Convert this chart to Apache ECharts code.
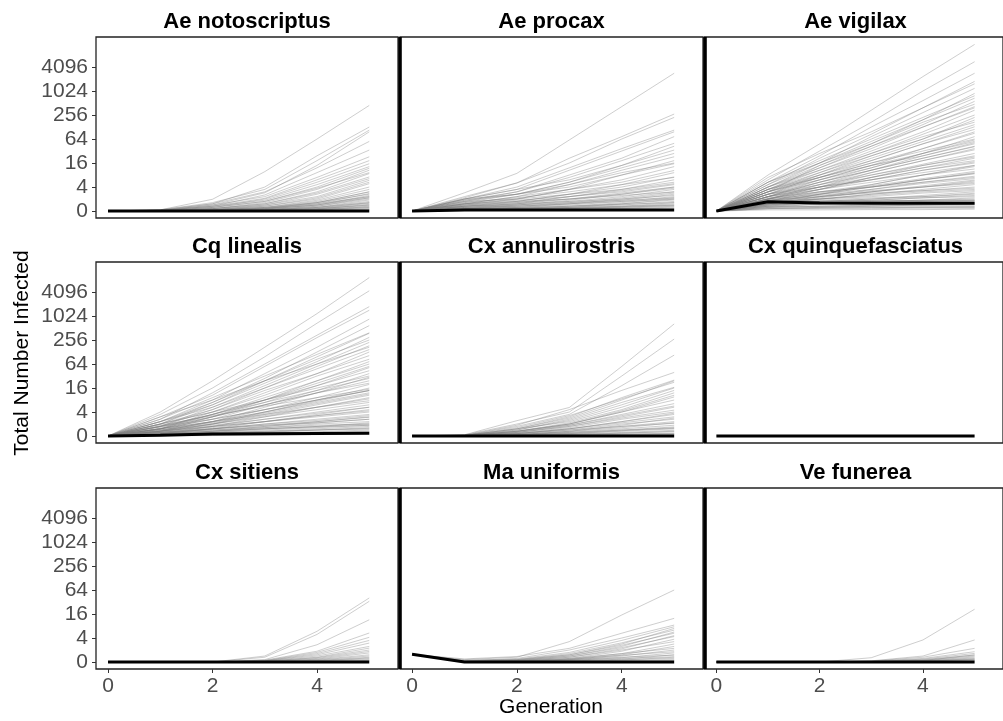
<!DOCTYPE html>
<html><head><meta charset="utf-8">
<script src="https://cdn.jsdelivr.net/npm/echarts@6/dist/echarts.min.js"></script>
<style>html,body{margin:0;padding:0;background:#fff}#c{width:1003px;height:721px}</style>
</head><body><div id="c"></div>
<script>
// ---- data (y values are in log4 axis units; tick labels give the counts) ----
const generations = [0, 1, 2, 3, 4, 5];
const xTickValues = [0, 2, 4];
const yTickValues = [0, 1, 2, 3, 4, 5, 6];
const yTickLabels = ['0', '4', '16', '64', '256', '1024', '4096'];
const species = ['Ae notoscriptus', 'Ae procax', 'Ae vigilax', 'Cq linealis', 'Cx annulirostris',
  'Cx quinquefasciatus', 'Cx sitiens', 'Ma uniformis', 'Ve funerea'];

const simAeNotoscriptus = [
  [0,0.05,0.49,1.64,3.0,4.4],[0,0.05,0.3,1.0,2.3,3.5],[0,0.05,0.35,0.9,2.1,3.37],[0,0.03,0.25,0.76,1.9,3.3],
  [0,0.03,0.3,0.8,1.8,2.9],[0,0.03,0.2,0.67,1.6,2.54],[0,0.02,0.25,0.6,1.4,2.26],[0,0.02,0.2,0.53,1.3,2.1],
  [0,0.02,0.15,0.5,1.2,1.97],[0,0.02,0.2,0.45,1.1,1.85],[0,0.02,0.15,0.4,1.0,1.78],[0,0.01,0.1,0.35,0.9,1.7],
  [0,0.01,0.15,0.4,0.95,1.6],[0,0.01,0.1,0.3,0.8,1.56],[0,0.01,0.1,0.3,0.75,1.42],[0,0.01,0.1,0.25,0.7,1.35],
  [0,0.01,0.05,0.25,0.6,1.28],[0,0.01,0.08,0.2,0.55,1.2],[0,0,0.05,0.2,0.5,1.14],[0,0,0.05,0.15,0.45,1.0],
  [0,0,0.05,0.15,0.4,0.9],[0,0,0.05,0.12,0.35,0.8],[0,0,0.03,0.1,0.35,0.8],[0,0,0.03,0.1,0.3,0.73],
  [0,0,0.03,0.08,0.25,0.65],[0,0,0.02,0.08,0.25,0.6],[0,0,0.02,0.06,0.2,0.55],[0,0,0.02,0.05,0.2,0.5],
  [0,0,0.02,0.05,0.15,0.46],[0,0,0.01,0.04,0.15,0.4],[0,0,0.01,0.04,0.12,0.35],[0,0,0.01,0.03,0.1,0.32],
  [0,0,0.01,0.03,0.08,0.28],[0,0,0,0.02,0.08,0.24],[0,0,0,0.02,0.06,0.2],[0,0,0,0.01,0.05,0.18],
  [0,0,0,0.01,0.04,0.14],[0,0,0,0.01,0.03,0.1],[0,0,0,0,0.02,0.08],[0,0,0,0,0.01,0.05],
  [0,0,0.02,0.06,0.15,0.35],[0,0,0.01,0.04,0.1,0.25],[0,0.01,0.05,0.15,0.35,0.7],[0,0,0.03,0.1,0.25,0.55],
  [0,0,0.01,0.02,0.06,0.15],[0,0.01,0.04,0.12,0.3,0.6]
];
const simAeProcax = [
  [0,0.76,1.57,2.96,4.35,5.74],[0,0.6,1.17,2.2,3.1,4.04],[0,0.55,1.17,2.0,3.0,3.9],[0,0.5,1.0,1.8,2.6,3.37],
  [0,0.5,0.9,1.7,2.5,3.3],[0,0.45,0.8,1.5,2.2,3.1],[0,0.4,0.8,1.4,2.1,2.82],[0,0.5,0.9,1.3,1.9,2.7],
  [0,0.4,0.7,1.2,1.9,2.54],[0,0.35,0.7,1.2,1.8,2.4],[0,0.3,0.6,1.1,1.7,2.26],[0,0.45,0.7,1.0,1.5,2.1],
  [0,0.3,0.5,0.9,1.5,1.97],[0,0.25,0.5,0.9,1.3,1.85],[0,0.3,0.6,0.9,1.2,1.69],[0,0.2,0.4,0.7,1.1,1.6],
  [0,0.25,0.4,0.7,1.0,1.42],[0,0.2,0.35,0.6,0.9,1.3],[0,0.15,0.3,0.6,0.85,1.14],[0,0.2,0.3,0.5,0.75,1.0],
  [0,0.15,0.25,0.45,0.7,1.0],[0,0.1,0.25,0.4,0.6,0.9],[0,0.15,0.2,0.35,0.55,0.8],[0,0.1,0.2,0.3,0.5,0.75],
  [0,0.1,0.15,0.3,0.45,0.7],[0,0.1,0.15,0.25,0.4,0.6],[0,0.08,0.12,0.2,0.35,0.55],[0,0.08,0.1,0.2,0.3,0.5],
  [0,0.05,0.1,0.15,0.3,0.46],[0,0.05,0.1,0.15,0.25,0.4],[0,0.05,0.08,0.12,0.2,0.35],[0,0.05,0.06,0.1,0.18,0.3],
  [0,0.03,0.05,0.1,0.15,0.25],[0,0.03,0.05,0.08,0.12,0.2],[0,0.02,0.04,0.06,0.1,0.16],[0,0.02,0.03,0.05,0.08,0.12],
  [0,0.3,0.45,0.6,0.8,1.1],[0,0.4,0.5,0.7,0.9,1.2],[0,0.2,0.3,0.4,0.5,0.65],[0,0.5,0.7,1.1,1.6,2.0],
  [0,0.3,0.4,0.5,0.65,0.8],[0,0.2,0.25,0.35,0.45,0.55],[0,0.1,0.15,0.2,0.28,0.35],[0,0.25,0.35,0.5,0.7,0.95],
  [0,0.15,0.2,0.3,0.4,0.5],[0,0.05,0.08,0.12,0.16,0.22],[0,0.35,0.55,0.8,1.1,1.4],[0,0.1,0.12,0.15,0.2,0.25]
];
const simAeVigilax = [
  [0,1.5,2.8,4.2,5.6,6.94],[0,1.3,2.5,3.7,5.0,6.22],[0,1.2,2.3,3.5,4.6,5.74],[0,1.0,2.0,3.1,4.1,5.11],
  [0,1.1,2.0,2.9,3.8,4.7],[0,0.9,1.8,2.7,3.6,4.57],[0,1.0,1.8,2.6,3.5,4.35],[0,0.8,1.6,2.4,3.2,4.0],
  [0,0.9,1.6,2.3,3.0,3.79],[0,0.7,1.4,2.1,2.8,3.51],[0,0.8,1.4,2.0,2.6,3.24],[0,0.6,1.2,1.8,2.4,2.96],
  [0,0.7,1.2,1.7,2.2,2.68],[0,0.5,1.0,1.5,1.95,2.4],[0,0.6,1.0,1.4,1.8,2.1],[0,0.4,0.8,1.1,1.5,1.85],
  [0,0.5,0.8,1.0,1.3,1.57],[0,0.3,0.6,0.8,1.05,1.29],[0,0.4,0.5,0.7,0.85,1.0],[0,0.25,0.4,0.5,0.6,0.74],
  [0,0.3,0.35,0.4,0.45,0.46],[0,0.2,0.2,0.22,0.24,0.25],[0,1.2,2.1,3.0,3.9,4.8],[0,0.9,1.7,2.5,3.3,4.2],
  [0,0.7,1.5,2.3,3.0,3.9],[0,1.0,1.7,2.4,3.1,3.7],[0,0.8,1.5,2.1,2.8,3.4],[0,0.6,1.3,1.9,2.6,3.3],
  [0,0.7,1.3,1.8,2.4,3.1],[0,0.5,1.1,1.7,2.3,2.85],[0,0.9,1.4,1.9,2.3,2.8],[0,0.6,1.1,1.6,2.1,2.55],
  [0,0.4,0.9,1.4,1.9,2.3],[0,0.7,1.1,1.5,1.9,2.25],[0,0.5,0.9,1.3,1.7,2.0],[0,0.35,0.7,1.1,1.5,1.9],
  [0,0.6,0.9,1.2,1.5,1.75],[0,0.45,0.75,1.05,1.35,1.65],[0,0.3,0.6,0.9,1.2,1.45],[0,0.5,0.7,0.9,1.15,1.35],
  [0,0.4,0.6,0.8,1.0,1.2],[0,0.25,0.5,0.7,0.9,1.1],[0,0.45,0.6,0.75,0.85,0.95],[0,0.35,0.5,0.6,0.75,0.85],
  [0,0.2,0.4,0.5,0.65,0.8],[0,0.4,0.45,0.55,0.6,0.7],[0,0.3,0.4,0.45,0.55,0.6],[0,0.15,0.3,0.4,0.45,0.55],
  [0,0.35,0.4,0.42,0.45,0.5],[0,0.25,0.3,0.35,0.38,0.4],[0,0.3,0.3,0.32,0.33,0.35],[0,0.1,0.15,0.2,0.25,0.3],
  [0,0.2,0.2,0.2,0.2,0.2],[0,0.15,0.15,0.15,0.15,0.15],[0,0.1,0.1,0.1,0.12,0.12],[0,0.05,0.05,0.06,0.06,0.08],
  [0,1.4,2.4,3.3,4.3,5.3],[0,1.1,2.2,3.2,4.3,5.4],[0,0.8,1.9,2.8,3.8,4.9],[0,1.2,2.0,2.8,3.7,4.45],
  [0,0.5,0.9,1.4,1.8,2.2],[0,0.6,1.0,1.3,1.6,1.9],[0,0.4,0.7,1.0,1.3,1.6],[0,0.3,0.55,0.8,1.0,1.25],
  [0,0.35,0.5,0.65,0.8,0.9],[0,0.25,0.35,0.45,0.55,0.65],[0,0.2,0.3,0.35,0.4,0.45],[0,0.4,0.42,0.42,0.43,0.44],
  [0,0.15,0.2,0.25,0.28,0.3],[0,0.1,0.12,0.14,0.16,0.18],[0,0.8,1.3,1.9,2.4,2.9],[0,0.6,1.2,1.7,2.2,2.7],
  [0,0.9,1.5,2.2,2.9,3.6],[0,0.5,1.0,1.6,2.1,2.6],[0,0.7,1.0,1.3,1.7,2.05],[0,0.3,0.7,1.0,1.3,1.55],
  [0,0.45,0.65,0.85,1.0,1.15],[0,0.55,0.8,1.0,1.2,1.4],[0,1.0,1.9,2.7,3.5,4.3],[0,0.8,1.4,2.0,2.5,3.0]
];
const simCqLinealis = [
  [0,1.0,2.3,3.7,5.1,6.6],[0,0.9,2.0,3.3,4.7,6.05],[0,0.7,1.8,3.0,4.2,5.39],[0,0.8,1.7,2.9,4.1,5.24],
  [0,0.6,1.5,2.6,3.7,4.87],[0,0.5,1.3,2.3,3.3,4.28],[0,0.6,1.3,2.2,3.1,4.11],[0,0.4,1.1,2.0,2.9,3.76],
  [0,0.5,1.1,1.9,2.6,3.35],[0,0.3,0.9,1.6,2.3,3.0],[0,0.4,0.9,1.5,2.1,2.72],[0,0.3,0.8,1.3,1.8,2.3],
  [0,0.2,0.6,1.1,1.5,1.89],[0,0.3,0.6,0.9,1.2,1.47],[0,0.2,0.4,0.6,0.85,1.05],[0,0.1,0.3,0.45,0.6,0.78],
  [0,0.15,0.25,0.35,0.45,0.5],[0,0.1,0.15,0.2,0.25,0.29],[0,0.7,1.6,2.5,3.4,4.3],[0,0.5,1.4,2.3,3.2,4.0],
  [0,0.4,1.2,2.1,3.0,3.9],[0,0.6,1.2,2.0,2.8,3.6],[0,0.3,1.0,1.8,2.6,3.5],[0,0.5,1.0,1.7,2.5,3.2],
  [0,0.2,0.8,1.5,2.3,3.1],[0,0.4,0.8,1.4,2.1,2.85],[0,0.3,0.7,1.3,1.9,2.6],[0,0.2,0.6,1.2,1.8,2.45],
  [0,0.4,0.7,1.1,1.6,2.15],[0,0.15,0.5,1.0,1.5,2.0],[0,0.3,0.6,1.0,1.4,1.8],[0,0.2,0.5,0.9,1.3,1.7],
  [0,0.1,0.4,0.8,1.2,1.6],[0,0.25,0.5,0.8,1.1,1.4],[0,0.15,0.4,0.7,1.0,1.3],[0,0.1,0.3,0.6,0.9,1.2],
  [0,0.2,0.4,0.6,0.8,1.0],[0,0.1,0.3,0.5,0.7,0.9],[0,0.05,0.2,0.4,0.6,0.8],[0,0.15,0.3,0.45,0.55,0.7],
  [0,0.1,0.2,0.35,0.5,0.6],[0,0.05,0.15,0.3,0.4,0.55],[0,0.1,0.2,0.3,0.38,0.45],[0,0.05,0.1,0.2,0.3,0.4],
  [0,0.05,0.1,0.15,0.25,0.35],[0,0.03,0.08,0.12,0.18,0.25],[0,0.02,0.05,0.1,0.15,0.2],[0,0.02,0.04,0.06,0.1,0.15],
  [0,0.01,0.02,0.04,0.06,0.1],[0,0.6,1.4,2.4,3.5,4.6],[0,0.8,1.5,2.3,3.0,3.7],[0,0.5,1.0,1.5,2.0,2.5],
  [0,0.35,0.9,1.5,2.2,2.9],[0,0.25,0.55,0.95,1.35,1.75],[0,0.45,0.85,1.25,1.6,1.95],
  [0,0.3,0.7,1.1,1.5,1.9],[0,0.2,0.45,0.7,0.95,1.2],[0,0.1,0.25,0.4,0.55,0.7],[0,0.05,0.15,0.25,0.35,0.45],
  [0,0.15,0.35,0.6,0.85,1.1],[0,0.25,0.6,1.0,1.45,1.9],[0,0.1,0.2,0.3,0.4,0.5],[0,0.2,0.5,0.85,1.2,1.55],
  [0,0.05,0.1,0.18,0.25,0.32],[0,0.4,0.9,1.4,1.9,2.4],[0,0.3,0.8,1.3,1.8,2.2],[0,0.15,0.3,0.5,0.65,0.85]
];
const simCxAnnulirostris = [
  [0,0.05,0.64,1.19,2.9,4.67],[0,0.05,0.5,1.0,2.5,4.04],[0,0.03,0.4,0.9,2.1,3.37],[0,0.03,0.45,1.1,1.9,2.65],
  [0,0.03,0.3,0.8,1.6,2.33],[0,0.02,0.35,0.85,1.55,2.24],[0,0.02,0.25,0.7,1.4,2.03],[0,0.02,0.3,0.6,1.2,1.9],
  [0,0.02,0.2,0.5,1.0,1.63],[0,0.01,0.2,0.45,0.9,1.35],[0,0.01,0.15,0.4,0.75,1.08],[0,0.01,0.1,0.3,0.55,0.8],
  [0,0.01,0.1,0.25,0.4,0.53],[0,0,0.05,0.15,0.25,0.32],[0,0.02,0.25,0.65,1.3,2.0],[0,0.02,0.2,0.55,1.1,1.8],
  [0,0.01,0.2,0.5,1.0,1.5],[0,0.01,0.15,0.45,0.85,1.25],[0,0.01,0.12,0.35,0.7,1.0],[0,0.01,0.1,0.3,0.6,0.9],
  [0,0,0.08,0.25,0.5,0.7],[0,0,0.06,0.2,0.4,0.6],[0,0,0.05,0.15,0.3,0.45],[0,0,0.04,0.12,0.25,0.38],
  [0,0,0.03,0.1,0.2,0.3],[0,0,0.02,0.08,0.15,0.24],[0,0,0.02,0.06,0.12,0.18],[0,0,0.01,0.04,0.08,0.12],
  [0,0,0.01,0.03,0.05,0.08],[0,0,0,0.02,0.03,0.05],[0,0.02,0.3,0.75,1.5,2.3],[0,0.01,0.18,0.5,1.05,1.7],
  [0,0.01,0.15,0.4,0.8,1.2],[0,0,0.1,0.3,0.6,0.95],[0,0,0.05,0.2,0.45,0.75],
  [0,0,0.02,0.06,0.12,0.2],[0,0,0.03,0.1,0.22,0.35],[0,0.01,0.06,0.18,0.35,0.55],[0,0,0.01,0.03,0.07,0.1]
];
const simCxQuinquefasciatus = [];
const simCxSitiens = [
  [0,0,0,0.25,1.28,2.67],[0,0,0,0.2,1.15,2.53],[0,0,0,0.1,0.72,1.76],[0,0,0,0.08,0.45,1.21],
  [0,0,0,0.06,0.4,1.03],[0,0,0,0.05,0.35,0.9],[0,0,0,0.05,0.3,0.79],[0,0,0,0.04,0.25,0.65],
  [0,0,0,0.03,0.2,0.58],[0,0,0,0.03,0.18,0.5],[0,0,0,0.02,0.15,0.44],[0,0,0,0.02,0.12,0.38],
  [0,0,0,0.02,0.1,0.3],[0,0,0,0.01,0.08,0.25],[0,0,0,0.01,0.06,0.2],[0,0,0,0.01,0.05,0.17],
  [0,0,0,0,0.04,0.14],[0,0,0,0,0.03,0.1],[0,0,0,0,0.02,0.07],[0,0,0,0,0.01,0.05]
];
const simMaUniformis = [
  [0.32,0.1,0.2,0.85,1.96,3.0],[0.32,0.13,0.23,0.57,1.2,1.82],[0.32,0.05,0.15,0.5,1.0,1.54],[0.32,0.08,0.12,0.4,0.9,1.47],
  [0.32,0.05,0.1,0.35,0.8,1.33],[0.32,0.03,0.1,0.3,0.7,1.2],[0.32,0.03,0.08,0.25,0.6,1.06],[0.32,0.02,0.06,0.2,0.5,0.85],
  [0.32,0.02,0.05,0.15,0.35,0.57],[0.32,0.02,0.04,0.12,0.28,0.43],[0.32,0.01,0.03,0.1,0.2,0.29],[0.32,0.01,0.02,0.08,0.15,0.22],
  [0.32,0,0.02,0.05,0.1,0.15],[0.32,0,0.01,0.03,0.06,0.1],[0.32,0,0,0.02,0.04,0.06],[0.32,0.04,0.08,0.3,0.75,1.4],
  [0.32,0.02,0.06,0.25,0.65,1.25],[0.32,0.01,0.05,0.2,0.55,1.1],[0.32,0.01,0.04,0.15,0.45,0.95],[0.32,0.01,0.03,0.12,0.35,0.75],
  [0.32,0,0.02,0.1,0.3,0.65],[0.32,0,0.02,0.08,0.25,0.5],[0.32,0,0.01,0.06,0.18,0.38],[0.32,0,0.01,0.04,0.12,0.3],
  [0.32,0,0,0.02,0.08,0.2]
];
const simVeFunerea = [
  [0,0,0,0.18,0.92,2.2],[0,0,0,0.05,0.25,0.92],[0,0,0,0.04,0.2,0.57],[0,0,0,0.03,0.15,0.43],
  [0,0,0,0.02,0.12,0.36],[0,0,0,0.02,0.1,0.29],[0,0,0,0.01,0.08,0.25],[0,0,0,0.01,0.06,0.21],
  [0,0,0,0.01,0.05,0.17],[0,0,0,0,0.04,0.14],[0,0,0,0,0.03,0.11],[0,0,0,0,0.02,0.08],
  [0,0,0,0,0.01,0.05],[0,0,0,0.01,0.06,0.3],[0,0,0,0,0.03,0.12]
];

const centralAeNotoscriptus = [0, 0, 0, 0, 0, 0];
const centralAeProcax = [0, 0.04, 0.04, 0.04, 0.04, 0.04];
const centralAeVigilax = [0, 0.39, 0.33, 0.32, 0.32, 0.32];
const centralCqLinealis = [0, 0.03, 0.08, 0.1, 0.11, 0.12];
const centralCxAnnulirostris = [0, 0, 0, 0, 0, 0];
const centralCxQuinquefasciatus = [0, 0, 0, 0, 0, 0];
const centralCxSitiens = [0, 0, 0, 0, 0, 0];
const centralMaUniformis = [0.32, 0, 0, 0, 0, 0];
const centralVeFunerea = [0, 0, 0, 0, 0, 0];

const simulations = [simAeNotoscriptus, simAeProcax, simAeVigilax, simCqLinealis, simCxAnnulirostris,
  simCxQuinquefasciatus, simCxSitiens, simMaUniformis, simVeFunerea];
const centrals = [centralAeNotoscriptus, centralAeProcax, centralAeVigilax, centralCqLinealis, centralCxAnnulirostris,
  centralCxQuinquefasciatus, centralCxSitiens, centralMaUniformis, centralVeFunerea];

// ---- layout ----
const colLeft = [96, 400, 704.5];
const colWidth = [302, 303, 302];
const rowTop = [37, 262, 488];
const rowHeight = 181;
const FONT = '"Liberation Sans", Arial, Helvetica, sans-serif';

const grids = [], xAxes = [], yAxes = [], titles = [], series = [];
species.forEach((name, i) => {
  const r = Math.floor(i / 3), c = i % 3;
  grids.push({left: colLeft[c], top: rowTop[r], width: colWidth[c], height: rowHeight,
    show: true, borderColor: '#222222', borderWidth: 1.3, backgroundColor: 'transparent'});
  xAxes.push({type: 'value', gridIndex: i, min: -0.23, max: 5.55,
    axisLine: {show: false, onZero: false}, splitLine: {show: false},
    axisTick: {show: r === 2, length: 4, customValues: xTickValues, lineStyle: {color: '#333333'}},
    axisLabel: {show: r === 2, customValues: xTickValues, margin: 7, color: '#4d4d4d', fontSize: 21, fontFamily: FONT}});
  yAxes.push({type: 'value', gridIndex: i, min: -0.29, max: 7.25,
    axisLine: {show: c > 0, onZero: false, lineStyle: {color: '#000', width: 3.6, cap: 'butt'}}, splitLine: {show: false},
    axisTick: {show: c === 0, length: 4, customValues: yTickValues, lineStyle: {color: '#333333'}},
    axisLabel: {show: c === 0, customValues: yTickValues, margin: 8, color: '#4d4d4d', fontSize: 21, fontFamily: FONT,
      formatter: v => yTickLabels[yTickValues.indexOf(Math.round(v))]}});
  titles.push({text: name, left: colLeft[c] + colWidth[c] / 2, top: rowTop[r] - 26, textAlign: 'center', padding: 0,
    textStyle: {fontSize: 22, fontWeight: 'bold', color: '#000', fontFamily: FONT}});
  simulations[i].forEach(traj => {
    series.push({type: 'line', xAxisIndex: i, yAxisIndex: i, symbol: 'none', silent: true, z: 2,
      data: generations.map((g, k) => [g, traj[k]]),
      lineStyle: {color: '#7f7f7f', width: 1, opacity: 0.38}});
  });
  series.push({type: 'line', xAxisIndex: i, yAxisIndex: i, symbol: 'none', silent: true, z: 3,
    data: generations.map((g, k) => [g, centrals[i][k]]),
    lineStyle: {color: '#000000', width: 3}});
});

const chart = echarts.init(document.getElementById('c'), null, {renderer: 'canvas'});
chart.setOption({
  animation: false,
  backgroundColor: '#ffffff',
  title: titles,
  grid: grids, xAxis: xAxes, yAxis: yAxes, series: series,
  graphic: [
    {type: 'text', x: 22, y: 353, rotation: Math.PI / 2,
      style: {text: 'Total Number Infected', align: 'center', verticalAlign: 'middle', fill: '#000',
        font: '21px ' + FONT}},
    {type: 'text', x: 551, y: 707,
      style: {text: 'Generation', align: 'center', verticalAlign: 'middle', fill: '#000', font: '21px ' + FONT}}
  ]
});
</script></body></html>
